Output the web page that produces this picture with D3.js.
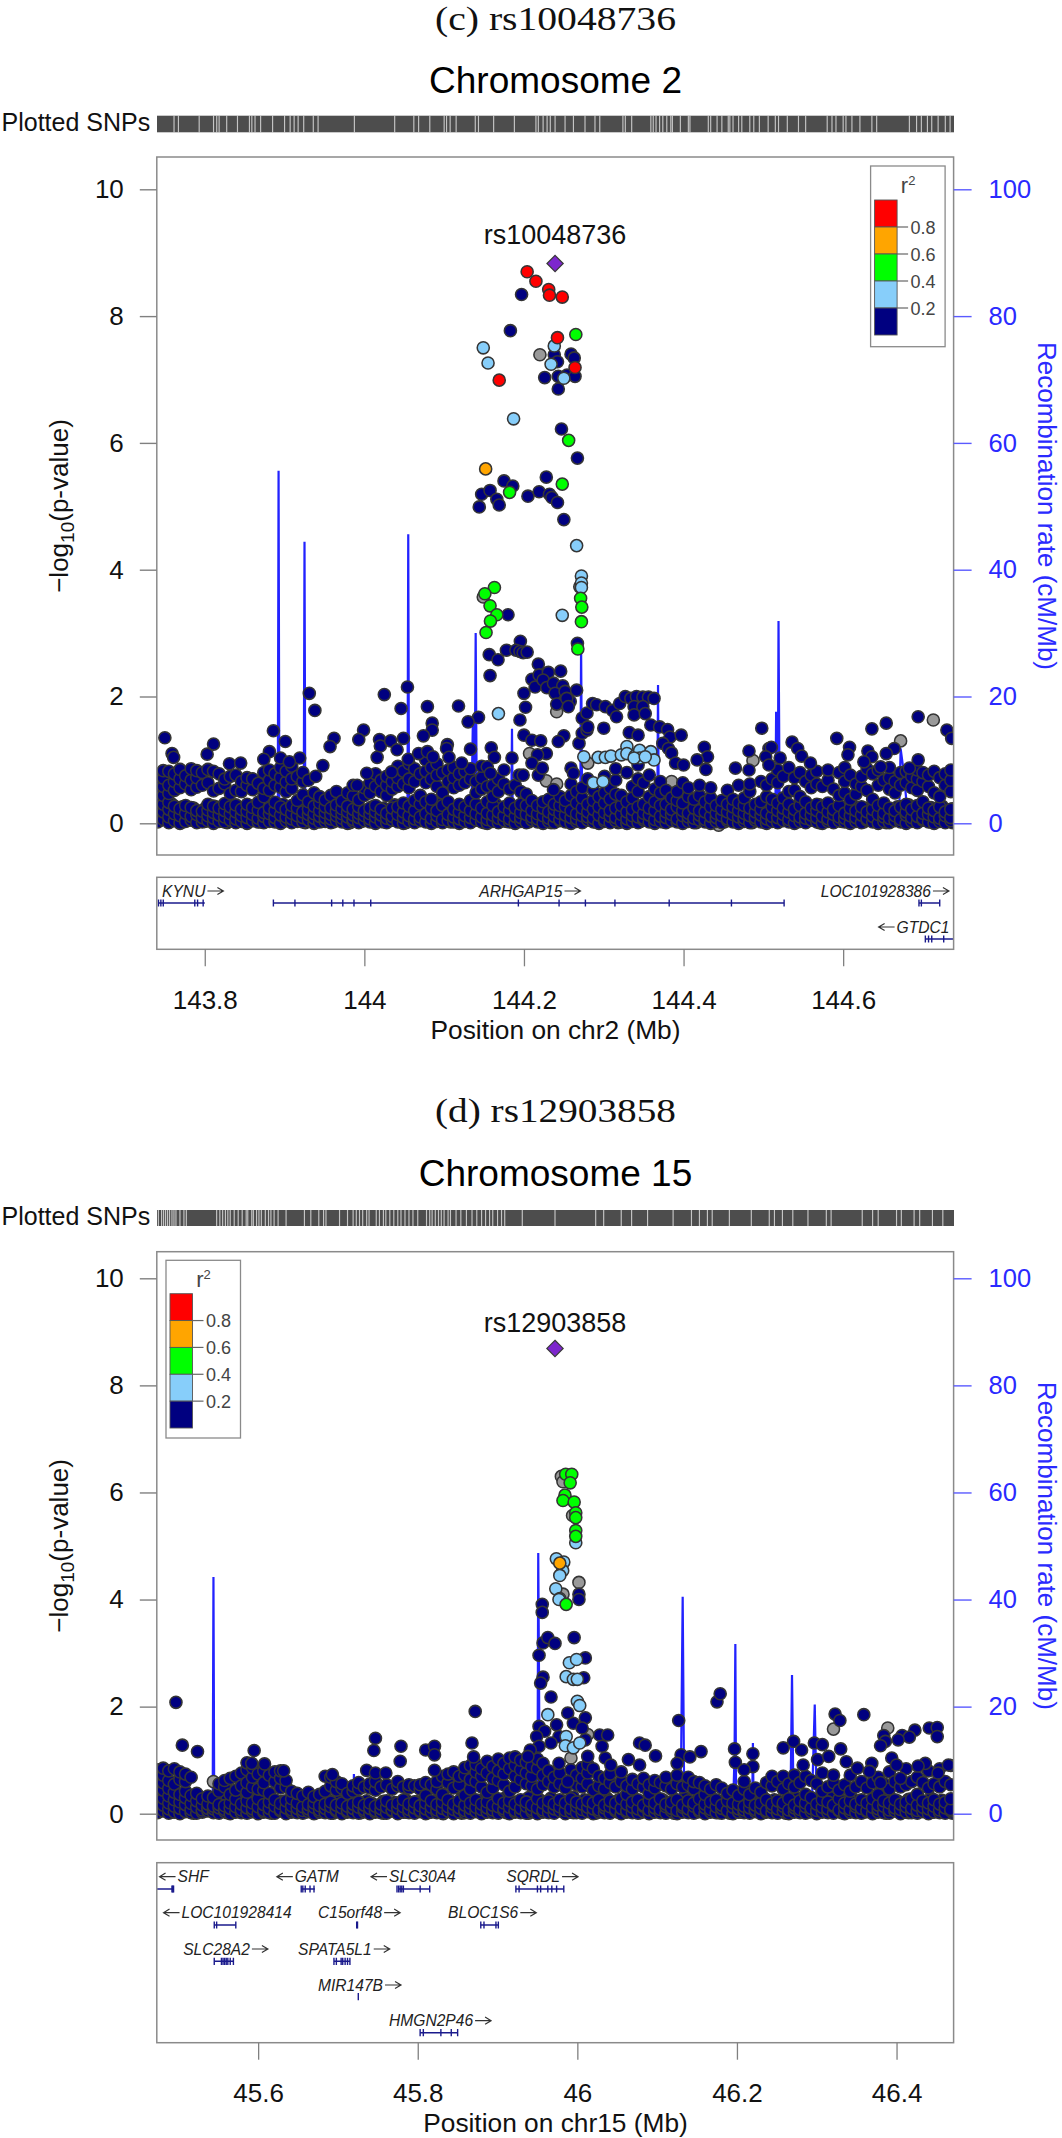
<!DOCTYPE html>
<html><head><meta charset="utf-8">
<script src="https://cdn.jsdelivr.net/npm/d3@7"></script>
<style>
html,body{margin:0;padding:0;background:#fff}
svg{display:block}
text{font-family:"Liberation Sans",Arial,sans-serif}
</style></head><body><svg id="c" width="1062" height="2138"></svg>
<script>
// ---------- panel (c) rs10048736 : positions in kb from 143.74 Mb ----------
const cTicks=[143.8,144,144.2,144.4,144.6];
const cBand=[
[1,.02,.13,.24,.36,.5,.63,.77],[8,.06,.18,.3,.44,.58,.71,.83],[15,.01,.1,.22,.33,.47,.6,.82],[22,.04,.15,.27,.52,.66,.78],
[29,0,.12,.23,.56,.7,.85],[36,.03,.16,.28,.62,.75],[43,.05,.11,.25,.53,.68,.86],[50,.01,.14,.2,.57,.72,.83],
[57,.02,.09,.19,.6,.8],[64,.04,.12,.21,.3,.64,.85],[71,0,.08,.17,.27,.51,.82],[78,.03,.13,.24,.55,.78],
[85,.02,.1,.2,.31,.62,.7],[92,.05,.15,.26,.47,.74],[99,.01,.07,.18,.29,.52,.76],[106,.03,.12,.22,.5,.66],
[113,0,.09,.19,.3,.6,.72],[120,.04,.14,.25,.53,.7],[127,.02,.08,.21,.33,.63],[134,.01,.11,.17,.42,.55,.8],
[141,.03,.15,.24,.52,.68,.84],[148,.02,.09,.2,.33,.6,.78],[155,0,.13,.26,.57,.72,.88],[162,.04,.1,.22,.5,.65,.82],
[169,.01,.07,.16,.28,.55,.7,.9],[176,.03,.12,.24,.36,.74],[183,.02,.09,.18,.45,.66,.8],[190,.05,.14,.22,.34,.68],
[197,0,.08,.15,.27,.48],[204,.02,.11,.2,.32,.42],[211,.03,.09,.17,.26,.37],[218,.01,.07,.14,.24,.44],
[225,.04,.12,.19,.29,.5],[232,.02,.08,.15,.23,.35],[239,0,.1,.18,.27,.48],[246,.03,.06,.13,.22,.43,.6],
[253,.01,.09,.16,.26,.37],[260,.04,.12,.2,.44,.56],[267,.02,.07,.15,.24,.48,.64],[274,0,.1,.18,.28,.58,.78],
[281,.03,.13,.22,.5,.68],[288,.01,.08,.16,.44,.6,.74],[295,.05,.11,.24,.54,.66],[302,.02,.14,.26,.58,.72,.9],
[309,0,.09,.18,.32,.62,.82],[316,.03,.12,.27,.56,.7,.94],[323,.01,.07,.2,.36,.66,.86],[330,.04,.1,.3,.44,.78],
[337,.02,.15,.34,.64,.82,1],[344,0,.08,.24,.38,.7,.88],[351,.03,.12,.2,.58,.76,.94],[358,.01,.06,.28,.48,.8],
[365,.04,.14,.34,.66,.84],[372,.02,.1,.22,.56,.72,.88],[379,0,.07,.18,.3,.6,.78],[386,.03,.12,.26,.64,.82],
[393,.01,.09,.2,.36,.7,.86],[400,.05,.15,.3,.48,.66],[407,.02,.1,.24,.54,.72,.9],[414,0,.06,.16,.34,.58],
[421,.03,.13,.28,.42,.6],[428,.01,.08,.18,.5,.7],[435,.04,.12,.26,.62],[442,.02,.07,.2,.32,.54],
[449,0,.11,.24,.6],[456,.03,.09,.17,.3,.5],[463,.01,.14,.28,.46],[470,.05,.1,.2,.36],
[477,.02,.07,.15,.28],[484,0,.12,.24,.34],[491,.03,.08,.18,.38],[498,.01,.11,.22,.3],
[505,.04,.06,.16,.28,.42],[512,.02,.13,.26,.36],[519,0,.09,.2,.44,.62],[526,.03,.07,.15,.32,.5],
[533,.01,.12,.24,.4,.56],[540,.05,.1,.18,.3,.7],[547,.02,.08,.22,.36,.52],[554,0,.13,.26,.42],
[561,.03,.06,.17,.32,.48,.74],[568,.01,.11,.2,.38,.56],[575,.04,.09,.24,.46,.68,.86],[582,.02,.14,.28,.44],
[589,0,.07,.18,.34,.8],[596,.03,.12,.22,.4,.58],[603,.01,.1,.26,.5,.7,.92],[610,.05,.08,.16,.3,.64],
[617,.02,.13,.24,.42,.76],[624,0,.06,.2,.34,.54],[631,.03,.11,.28,.48,.66],[638,.01,.09,.18,.3,.52],
[645,.04,.14,.22,.4],[652,.02,.07,.26,.36,.5],[659,0,.12,.2,.32,.64],[666,.03,.1,.16,.42,.56],
[673,.01,.08,.24,.38],[680,.05,.13,.2,.44,.6],[687,.02,.06,.18,.34],[694,0,.11,.26,.4,.56],
[701,.03,.09,.16,.28],[708,.01,.12,.22,.36],[715,.04,.07,.18,.3,.52],[722,.02,.14,.26,.38],
[729,0,.1,.2,.32,.6],[736,.03,.08,.16,.28,.4],[743,.01,.12,.24,.5,.62],[750,.05,.09,.18,.3],
[757,.02,.13,.22,.34,.66],[764,0,.07,.16,.42,.6],[771,.03,.11,.26,.38,.7],[778,.01,.09,.2,.32,.64,.84],
[785,.04,.14,.24,.4,.74],[792,.02,.06,.18,.3,.5,.88],[799,0,.12,.22,.52,.72],[806,.03,.1,.28,.42,.8],
[813,.01,.08,.16,.34,.66],[820,.05,.13,.24,.56,.76],[827,.02,.09,.2,.3,.62,.82],[834,0,.11,.26,.58],
[841,.03,.07,.18,.32,.68,.84],[848,.01,.14,.22,.54],[855,.04,.1,.28,.44,.8],[862,.02,.08,.16,.48,.66,.88],
[869,0,.12,.24,.38,.76],[876,.03,.09,.2,.46,.62],[883,.01,.13,.26,.58,.74],[890,.05,.07,.18,.52,.86],
[897,.02,.11,.22,.38,.78],[904,0,.14,.28,.6,.84],[911,.03,.1,.16,.32,.68],[918,.01,.08,.24,.54,.72,.88],
[925,.04,.12,.2,.48,.66],[932,.02,.06,.26,.6,.8],[939,0,.13,.18,.3,.64,.82],[946,.03,.09,.22,.56,.74],
[953,.01,.11,.28,.52,.7,.84],[960,.05,.07,.16,.34,.66,.8],[967,.02,.14,.24,.58,.76],[974,0,.1,.2,.48,.82],
[981,.03,.08,.26,.42,.72],[988,.01,.12,.18,.6,.78],[995,.04,.09,.22,.5,.68,.84]];
const cLow=[[4,.05,.17,.28],[18,.08,.2,.31],[32,.02,.13,.26],[46,.06,.16,.24],[60,.03,.11,.23],[74,.07,.19,.26],[88,.01,.12,.22],[102,.05,.15,.25],[116,.08,.18,.28],[130,.02,.1,.2],[144,.06,.14,.27],[158,.03,.17,.3],[172,.07,.13,.21],[186,.01,.11,.24],[200,.05,.16,.27],[207,.03,.12,.2],[214,.06,.13,.22],[221,.02,.1,.18],[228,.07,.14,.25],[235,.04,.11,.2],[242,.01,.09,.17],[249,.06,.15,.28],[256,.03,.12,.21],[270,.08,.16,.26],[284,.02,.1,.24],[298,.05,.17,.29],[312,.01,.13,.22],[326,.07,.15,.27],[340,.03,.11,.19],[354,.06,.18,.3],[368,.02,.14,.25],[382,.08,.12,.21],[396,.04,.16,.28],[410,.01,.1,.23],[424,.06,.19,.31],[438,.03,.13,.24],[452,.07,.15,.26],[466,.02,.11,.22],[480,.05,.17,.29],[494,.01,.14,.25],[508,.06,.1,.21],[522,.03,.16,.27],[536,.08,.12,.23],[550,.02,.18,.3],[564,.05,.13,.25],[578,.01,.11,.22],[592,.07,.16,.28],[606,.03,.14,.24],[620,.06,.1,.2],[634,.02,.15,.27],[648,.08,.12,.23],[662,.04,.17,.29],[676,.01,.13,.25],[690,.06,.11,.21],[697,.03,.16,.24],[704,.05,.12,.2],[711,.02,.09,.26],[718,.07,.15,.23],[732,.03,.13,.28],[746,.01,.11,.22],[760,.06,.17,.3],[774,.04,.14,.25],[788,.08,.12,.2],[802,.02,.16,.27],[816,.05,.1,.23],[830,.01,.13,.29],[844,.06,.18,.26],[858,.03,.11,.21],[872,.07,.15,.28],[886,.02,.12,.24],[900,.05,.16,.3],[914,.01,.1,.22],[928,.08,.14,.26],[942,.03,.17,.29],[956,.06,.11,.2],[970,.02,.13,.25],[984,.04,.15,.27],[997,.01,.12,.23]];
const cNavy=[[457,8.34],[443,7.77],[519,7.4],[523,7.34],[498,7.39],[502,7.28],[514,7.07],[524,7.05],[486,7.03],[503,7.05],[503,6.85],[507,6.22],[527,5.76],[488,5.46],[435,5.4],[446,5.32],[407,5.19],[417.5,5.25],[426,5.11],[429,5.02],[404,4.99],[465,5.16],[479,5.23],[492,5.19],[495,5.14],[502,5.06],[510,4.79],[527,2.84],[440,3.29],[455.5,2.87],[416.5,2.66],[427.5,2.58],[438,2.73],[450,2.73],[455,2.71],[459,2.69],[464,2.7],[417.5,2.33],[478,2.51],[470,2.27],[479,2.34],[490.6,2.38],[506,2.4],[474,2.15],[484,2.26],[488.6,2.14],[497,2.21],[508.6,2.17],[499,2.05],[511.6,2.08],[526,2.1],[501,1.88],[518,1.92],[513.6,1.97],[515.6,1.84],[460,2.05],[462,1.83],[455,1.63],[403,1.67],[390,1.6],[378,1.85],
[10,1.35],[19,1.1],[21,1.04],[71,1.25],[63,1.09],[91,.94],[105,.95],[146,1.46],[161,1.29],[141,1.13],[134,1.01],[155,1.03],[179,1.03],[166,.97],[191,2.05],[198,1.78],[222,1.34],[217,1.21],[208,.91],[199,.74],[259,1.47],[253,1.32],[279,1.32],[280,1.22],[293,1.3],[301,1.16],[309,1.34],[276,1.04],[285,2.03],[314,2.15],[306,1.81],[339,1.84],[345,1.58],[345,1.47],[334,1.38],[364,1.24],[363,1.18],[393,1.17],[315,1.01],[328,1.1],[339,1.13],[346,1.05],[366,1.04],[382,.95],[294,.81],[263,.79],[251,.6],[419,1.19],[423,1.04],[445,1.03],[414,.89],[435,.84],[454,.76],[459,.76],[418,.79],[478,.76],[460,1.39],[470,1.31],[481,1.3],[510,1.38],[503,1.29],[488,1.1],[477,1.08],[470,.95],[483,.87],[497,.53],[519,.87],[522,.79],[529,1.26],[533,1.42],[539,1.47],[533,1.66],[539,1.74],[546,1.89],[551,1.87],[562,1.84],[571,1.78],[576,1.68],[560,1.5],[540,1.52],[580,1.89],[587,2],[594,1.97],[601,2],[609,1.99],[616,1.99],[623,1.97],[598,1.84],[609,1.84],[598,1.71],[612,1.73],[592,1.43],[603,1.39],[619,1.55],[630,1.52],[640,1.48],[643,1.36],[657,1.39],[634,1.26],[641,1.18],[645,1.11],[650,.95],[660,.92],[686,1.2],[690,1.05],[677,1],[688,.85],[742,1.14],[725,.87],[742,.84],[758,1.5],[767,1.18],[770,1.2],[781,1.03],[763,1.05],[767,.92],[796,1.28],[803,1.18],[808,1.06],[819,.95],[852,1.34],[868,1.2],[866,1.08],[891,1.14],[896,1.49],[914,1.58],[954,1.68],[990,1.47],[996,1.34],[924,1.18],[914,1.1],[896,1.05],[886,.97],[907,.89],[954,1],[943,.87]];
const cGray=[[480,7.39],[530,3.73],[409,3.57],[501,1.76],[467,1.1],[488,.67],[501,.62],[973,1.63],[932,1.3],[747,.99],[704,-.03],[540,.95],[645,.66]];
const cLight=[[498,7.53],[409,7.5],[494,7.24],[415,7.26],[510,7.02],[447,6.38],[526,4.38],[532,3.9],[532,3.79],[532,3.72],[508,3.28],[428,1.73],[535,1.05],[553,1.04],[562,1.04],[569,1.06],[582,1.08],[589,1.21],[589,1.1],[599,1.06],[605,1.15],[605,1.03],[619,1.13],[623,1],[598,1.03],[612,1.05],[547,.64],[559,.66]];
const cGreen=[[525,7.71],[516,6.04],[508,5.35],[442,5.22],[531,3.55],[532.5,3.41],[532,3.18],[527.5,2.75],[423,3.72],[411,3.62],[417.5,3.43],[426,3.29],[418,3.19],[412.5,3.01]];
const cOrange=[[412,5.59]];
const cRed=[[464,8.7],[475,8.55],[491,8.42],[492,8.33],[508,8.3],[502,7.66],[524,7.19],[429,6.99]];
const cLead=[499,8.83];
const cRecomb=[[0,.4],[40,.3],[100,.2],[151.5,.3],[152.5,55.6],[153.5,.4],[184,.2],[185,44.4],[186,.3],[250,.2],[314,.3],[315,45.6],[316,.3],[394,.2],[396,16.3],[398,.4],[399.5,30],[401,.3],[444,.3],[445,14.9],[446,.2],[530.5,.3],[531.6,28],[533,.3],[627,.2],[628,21.8],[629,.2],[775,.4],[776,17.6],[778,.6],[779,31.9],[780.5,.3],[900,.2],[930,.4],[932,11.8],[936,8],[941,1],[950,.6],[998,.5]];
const cRugGaps=[21.5,27,53,71,75,78,87.5,101,116,119,123,130,145,160,167,172,177,184,196,202,247.5,298,322,328,342,360,363,367.5,375,399,403,422,448,475,478,484,489,493,499,511.5,522,536.5,549,555,584,587,595,619,622,625.5,630,634,639,644,646,656,666,668,691,694,702,708,716,718,722,729,733,743,748,755,766,775,779,790,804,813,840,846,851,860,863.5,871,881,896,902,943,952,958,965.6,971,979,988,994];
const cGeneNames=["KYNU","ARHGAP15","LOC101928386","GTDC1"];
const cGeneRows=[0,0,0,1];
const cGeneDirs=[1,1,1,-1];
const cGeneLabelKb=[6.5,404,832,927];
const cGeneSpans=[[2,60],[146,786],[955,981],[963,999]];
const cGeneExons=[[2,5,8,47.5,51,58],[146,173,219,233,247,268,453,504,537,574,642,720,786],[955,958,981],[963,967,971,986]];
// ---------- panel (d) rs12903858 : positions in kb from 45.473 Mb ----------
const dTicks=[45.6,45.8,46,46.2,46.4];
const dBand=[
[1,.02,.12,.24,.38,.52,.66,.82],[8,.05,.16,.29,.44,.58,.72,.85],[15,.01,.09,.2,.33,.47,.62,.8],[22,.03,.14,.26,.4,.55,.84],
[29,0,.1,.22,.36,.64,.78],[36,.04,.17,.3,.42,.6,.74],[43,.02,.08,.19,.34,.68],[50,.01,.12,.24,.38],
[57,.03,.07,.16,.28],[64,.05,.1,.18,.33],[71,.02,.09,.14,.3],[78,.01,.11,.17,.42,.56],
[85,.04,.08,.15,.5,.62],[92,0,.1,.2,.36,.66],[99,.03,.13,.27,.44,.7],[106,.02,.07,.18,.52,.76],
[113,.01,.11,.24,.4,.58,.82,.95],[120,.04,.09,.2,.5,.68,.86],[127,0,.13,.28,.46,.74],[134,.03,.06,.17,.44,.58,.8],
[141,.02,.1,.22,.38,.72],[148,.01,.14,.26,.6,.78],[155,.05,.08,.19,.48,.66,.8],[162,0,.11,.24,.5,.62],
[169,.03,.07,.15,.28,.42],[176,.02,.1,.2,.38],[183,.01,.06,.13,.33],[190,.04,.09,.17,.4],
[197,0,.12,.2,.32],[204,.03,.07,.15,.36],[211,.02,.1,.18,.42,.7],[218,.01,.13,.22,.52,.68],
[225,.05,.08,.16,.44,.6],[232,0,.11,.2,.48,.56],[239,.03,.06,.14,.38],[246,.02,.1,.18,.42,.52],
[253,.01,.12,.22,.46,.58],[260,.04,.08,.16,.5],[267,0,.1,.2,.48,.56],[274,.03,.06,.14,.44,.6],
[281,.02,.09,.18,.5],[288,.01,.12,.24,.54],[295,.05,.07,.16,.46],[302,0,.1,.2,.52,.6],
[309,.03,.13,.26,.5],[316,.02,.08,.18,.48,.54],[323,.01,.11,.22,.52],[330,.04,.06,.15,.46,.54],
[337,0,.09,.2,.34,.58],[344,.03,.12,.24,.54],[351,.02,.07,.17,.46,.6],[358,.01,.1,.22,.36,.7],
[365,.05,.13,.26,.58,.74],[372,0,.08,.18,.48,.78],[379,.03,.11,.24,.54,.7],[386,.02,.06,.16,.34,.72,.86],
[393,.01,.1,.2,.46,.64,.9],[400,.04,.12,.26,.6,.78,.92],[407,0,.08,.18,.5,.7,.84],[414,.03,.11,.22,.4,.76,.98],
[421,.02,.07,.16,.48,.66,.88],[428,.01,.13,.28,.62,.8,1.02],[435,.05,.09,.2,.54,.74,.94],[442,0,.12,.24,.42,.84,1.04],
[449,.03,.06,.18,.5,.7,.9,1.06],[456,.02,.1,.26,.64,.82,1],[463,.01,.14,.22,.56,.76,.96],[470,.04,.08,.16,.52,.7,.88,1.1],
[477,0,.11,.28,.46,.84,1.02],[484,.03,.07,.2,.54,.72,.94],[491,.02,.12,.24,.6,.8],[498,.01,.09,.18,.5,.68],
[505,.05,.13,.26,.56,.76],[512,0,.06,.2,.48],[519,.03,.1,.28,.6,.82],[526,.02,.14,.22,.54,.72],
[533,.01,.08,.18,.5,.66,.86],[540,.04,.12,.24,.56,.76,.92],[547,0,.09,.2,.44,.84],[554,.03,.07,.26,.52,.7],
[561,.02,.11,.16,.46,.66],[568,.01,.13,.24,.58,.74],[575,.05,.08,.2,.5],[582,0,.1,.28,.6,.78],
[589,.03,.06,.18,.36,.52],[596,.02,.12,.22,.46,.64],[603,.01,.09,.26,.56],[610,.04,.14,.16,.5,.66],
[617,0,.07,.24,.38,.54],[624,.03,.11,.2,.48,.62],[631,.02,.08,.28,.58],[638,.01,.13,.18,.52,.68],
[645,.05,.1,.22,.46],[652,0,.06,.26,.56,.72],[659,.03,.12,.16,.5],[666,.02,.09,.24,.54,.68],
[673,.01,.14,.2,.46,.6],[680,.04,.07,.28,.58],[687,0,.11,.18,.36,.52],[694,.03,.08,.22,.46],
[701,.02,.13,.26,.54],[708,.01,.1,.16,.48],[715,.05,.06,.24,.38],[722,0,.12,.2,.44],
[729,.03,.09,.18,.34],[736,.02,.07,.14,.46,.6],[743,.01,.11,.22,.36],[750,.04,.08,.16,.48],
[757,0,.1,.2,.4],[764,.03,.06,.26,.58],[771,.02,.12,.18,.52,.7],[778,.01,.09,.24,.6],
[785,.05,.14,.2,.46,.7],[792,0,.07,.28,.56],[799,.03,.11,.16,.5,.72],[806,.02,.08,.24,.58],
[813,.01,.13,.2,.36,.7],[820,.04,.1,.3,.62],[827,0,.06,.18,.56],[834,.03,.12,.26,.42,.76],
[841,.02,.09,.22,.5],[848,.01,.14,.16,.58,.72],[855,.05,.07,.28,.44],[862,0,.11,.2,.54],
[869,.03,.08,.24,.42,.72],[876,.02,.13,.18,.5],[883,.01,.1,.26,.6],[890,.04,.06,.2,.48],
[897,0,.12,.28,.58],[904,.03,.09,.16,.36,.68],[911,.02,.14,.24,.56],[918,.01,.07,.2,.46,.78],
[925,.05,.11,.26,.6],[932,0,.08,.18,.5],[939,.03,.13,.22,.54,.84],[946,.02,.1,.28,.6],
[953,.01,.06,.16,.36,.68],[960,.04,.12,.24,.58],[967,0,.09,.2,.48,.8],[974,.03,.14,.26,.56],
[981,.02,.07,.18,.5,.84],[988,.01,.11,.22,.6],[995,.05,.08,.28,.54,.9]];
const dLow=[[4,.06,.17,.29],[18,.03,.14,.26],[32,.07,.19,.27],[46,.01,.12,.24],[60,.05,.13,.22],[74,.08,.16,.25],[88,.02,.12,.28],[102,.06,.18,.3],[116,.03,.15,.27],[130,.07,.12,.22],[144,.01,.17,.28],[158,.05,.11,.23],[172,.08,.18,.25],[186,.03,.1,.2],[193,.06,.14,.24],[200,.02,.11,.18],[207,.07,.16,.22],[214,.04,.12,.26],[221,.01,.09,.19],[228,.06,.15,.23],[235,.03,.11,.21],[242,.08,.13,.2],[249,.05,.17,.25],[256,.02,.09,.18],[263,.06,.14,.24],[270,.04,.12,.19],[284,.01,.15,.23],[298,.07,.11,.21],[312,.03,.17,.26],[326,.06,.13,.22],[340,.02,.1,.25],[354,.08,.15,.27],[368,.04,.12,.23],[382,.01,.18,.29],[396,.06,.14,.25],[410,.03,.11,.28],[424,.07,.16,.24],[438,.02,.13,.31],[452,.05,.1,.22],[466,.01,.17,.3],[480,.06,.12,.26],[494,.03,.15,.29],[508,.08,.11,.24],[522,.02,.18,.31],[536,.05,.13,.26],[550,.01,.1,.23],[564,.07,.16,.29],[578,.03,.12,.25],[592,.06,.15,.27],[606,.02,.11,.21],[620,.08,.14,.3],[634,.04,.17,.26],[648,.01,.12,.23],[662,.06,.16,.29],[676,.03,.1,.24],[690,.07,.13,.27],[704,.02,.15,.22],[711,.05,.11,.25],[718,.01,.14,.19],[725,.06,.09,.24],[732,.03,.16,.28],[746,.07,.12,.23],[760,.02,.15,.3],[774,.05,.11,.26],[788,.01,.17,.24],[802,.06,.13,.29],[816,.03,.1,.22],[830,.08,.16,.27],[844,.04,.12,.3],[858,.02,.18,.25],[872,.06,.14,.28],[886,.03,.11,.23],[900,.07,.15,.26],[914,.01,.13,.3],[928,.05,.17,.24],[942,.02,.11,.27],[956,.06,.14,.22],[970,.03,.16,.29],[984,.08,.12,.25],[997,.01,.15,.26]];
const dNavy=[[529,4.1],[483,3.91],[483,3.76],[529,4],[479,2.96],[484,2.55],[481,2.44],[484,3.19],[490,3.29],[499,3.18],[494,2.18],[523,3.29],[537,2.91],[535,2.54],
[24,2.08],[32,1.28],[51,1.16],[122,1.18],[119,.94],[135,.93],[159,.8],[274,1.41],[272,1.18],[306,1.26],[305,.98],[337,1.19],[348,1.26],[348,1.1],[348,.81],[395,1.32],[397,1.06],[399,1.91],[220,.73],[263,.81],[274,.76],[287,.76],
[479,1.63],[486,1.54],[476,1.44],[501,1.66],[515,1.88],[522,1.69],[537,1.79],[533,1.6],[504,1.44],[494,1.32],[479,1.26],[468,1.19],[465,1.07],[504,.94],[515,.6],[537,1.38],[540,1.07],[555,1.47],[565,1.47],[558,1.26],[562,1.04],[569,.91],[591,1.01],[605,1.32],[612,1.28],[625,1.08],[605,.91],[654,1.74],[657,1.1],[668,1.06],[682,1.16],[652,.94],[702,2.09],[706,2.24],[724,1.21],[725,.96],[747,1.12],[747,.88],[736,.82],[785,1.23],[798,1.35],[808,1.19],[824,1.32],[834,1.29],[828,1.01],[810,.91],[850,1.86],[856,1.74],[886,1.85],[911,1.46],[913,1.35],[907,1.27],[934,1.46],[950,1.56],[943,1.43],[968,1.6],[978,1.61],[978,1.44],[929,1.38],[921,1.04],[927,.91],[932,.66],[963,.94],[954,.89],[992,.91],[979,.76],[857,1.21],[842,1.07],[864,.97],[878,.85],[896,.94],[893,.79],[907,.58]];
const dGray=[[507,6.3],[509,6.2],[521,5.57],[529,4.32],[509,4.1],[540,1.48],[519,1.04],[848,1.58],[916,1.6],[783,.13],[359,0],[71,.6]];
const dLight=[[525,5.06],[500.7,4.76],[510,4.7],[508.6,4.54],[505,4.45],[500,4.2],[505,4.02],[504,4],[490,1.85],[517,2.82],[526,2.88],[513,2.56],[522,2.51],[527,2.51],[527,2.1],[530,2.02],[513,1.44],[512,1.27],[522,1.23],[530,1.32]];
const dGreen=[[512.4,6.34],[520,6.34],[518,6.18],[511.5,5.95],[509,5.85],[523,5.82],[525,5.62],[525,5.53],[525,5.29],[525,5.18],[513,3.91]];
const dOrange=[[505,4.68]];
const dRed=[];
const dLead=[499,8.69];
const dRecomb=[[0,.3],[40,.2],[70,.3],[71,44.2],[72,.4],[200,.2],[246.5,.3],[247,7.4],[248,.3],[397,.2],[398,5],[399,.3],[477,.4],[478,48.7],[480,.3],[600,.2],[655,.4],[657,10],[659,40.5],[661,.4],[722,.3],[724,11],[725,31.7],[726,.3],[746,.2],[747,13.2],[748,.3],[790,.2],[794,1],[796,25.9],[798,1],[821,2],[824.5,20.4],[827,.4],[998,.3]];
const dRugGaps=[2,6,8.5,11,13.5,16,19,21.5,24,29,34,37,75,79,82.5,86,89,92,97,102,107,112,114,119,121,125,128,131,136,140,143,147,152,162,185,193,203,209,212,229,239,246,250,254,258,263,266,275,279,284,287,292,297,302,306,311,316,321,327,338,342,345,349,353,356.5,360,365,368,375,381,388,395,401,407,412,417,421,427,432,436,458,499,550,560,582,595,615,647,670,680,690,696,717.5,745,767.5,774,784,797,816,839,845,884,897,904,927,933,949,956,972,985];
const dGeneNames=["SHF","GATM","SLC30A4","SQRDL","LOC101928414","C15orf48","BLOC1S6","SLC28A2","SPATA5L1","MIR147B","HMGN2P46"];
const dGeneRows=[0,0,0,0,1,1,1,2,2,3,4];
const dGeneDirs=[-1,-1,-1,1,-1,1,1,1,1,1,1];
const dGeneLabelKb=[26,173,291,438,31,202,365,33,177,202,291];
const dGeneSpans=[[0,21],[181,198],[303,342],[450,510],[72,99],[251,251],[406,428],[72,96],[222,242],[252.5,252.5],[330,377]];
const dGeneExons=[[19,20,21],[181,183,186,192,197],[301,303,305,307,309,330,342],[450,454,477,481,490,495,501,510],[72,75,99],[250.5,251.5],[406,410,425,428],[72,81,83,85,87,89,92,96],[222,225,231,233,236,239,242],[252.5],[330,334,356,369,377]];
// ---------- shared ----------
const ldColours=["#999999","#000080","#87CEFA","#00FF00","#FFA500","#FF0000"];
const legendColours=["#FF0000","#FFA500","#00FF00","#87CEFA","#000080"];
const legendLabels=["0.8","0.6","0.4","0.2"];
const yTicks=[0,2,4,6,8,10];
const rateTicks=[0,20,40,60,80,100];

const svg=d3.select("#c");
let uid=0;
function flatten(cols){const out=[];cols.forEach(c=>c.slice(1).forEach(p=>out.push([c[0],p])));return out;}

function panel(o){
  const id="p"+(uid++);
  const x=d3.scaleLinear().domain([o.xMin,o.xMin+o.xSpan]).range([156.8,953.6]);
  const kb=k=>x(o.origin+k/1000);
  const y=d3.scaleLinear().domain([0,10]).range([o.y0,o.y10]);
  const r=d3.scaleLinear().domain([0,100]).range([o.y0,o.y10]);
  const g=svg.append("g");
  // titles
  g.append("text").attr("x",555.5).attr("y",o.subY).attr("text-anchor","middle").style("font-family",'"Liberation Serif","Times New Roman",serif').style("font-size","33px").attr("fill","#111").attr("textLength",241).attr("lengthAdjust","spacingAndGlyphs").text(o.sub);
  g.append("text").attr("x",555.5).attr("y",o.titleY).attr("text-anchor","middle").style("font-size","37px").attr("fill","#000").text(o.title);
  g.append("text").attr("x",1.5).attr("y",o.rugBot-1).style("font-size","25px").attr("fill","#111").text("Plotted SNPs");
  // rug
  g.append("rect").attr("x",157).attr("y",o.rugTop).attr("width",797).attr("height",o.rugBot-o.rugTop).attr("fill","#4d4d4d");
  g.append("g").selectAll("line").data(o.gaps).join("line")
    .attr("x1",d=>kb(d)).attr("x2",d=>kb(d)).attr("y1",o.rugTop).attr("y2",o.rugBot)
    .attr("stroke","#fff").attr("stroke-opacity",.68).attr("stroke-width",1.15);
  // clip
  svg.append("clipPath").attr("id",id).append("rect").attr("x",156.8).attr("y",o.top).attr("width",796.8).attr("height",o.bot-o.top);
  svg.append("clipPath").attr("id",id+"g").append("rect").attr("x",156.8).attr("y",o.gTop).attr("width",796.8).attr("height",o.gBot-o.gTop);
  const plot=g.append("g").attr("clip-path",`url(#${id})`);
  // recombination
  plot.append("path").datum(o.recomb).attr("fill","none").attr("stroke","#2222ff").attr("stroke-width",2.2)
    .attr("d",d3.line().x(d=>kb(d[0])).y(d=>r(d[1])));
  // points
  const groups=[o.gray,flatten(o.low).concat(flatten(o.band),o.navy),o.light,o.green,o.orange,o.red];
  groups.forEach((pts,i)=>{
    plot.append("g").selectAll("circle").data(pts).join("circle")
      .attr("cx",d=>kb(d[0])).attr("cy",d=>y(d[1])).attr("r",6.05)
      .attr("fill",ldColours[i]).attr("stroke","#353535").attr("stroke-width",1.55);
  });
  // lead SNP
  const sym=d3.symbol().type(d3.symbolDiamond2||d3.symbolDiamond).size(170)();
  plot.append("path").attr("d",sym).attr("transform",`translate(${kb(o.lead[0])},${y(o.lead[1])})`)
    .attr("fill","#7D26CD").attr("stroke","#3a3a3a").attr("stroke-width",1.2);
  g.append("text").attr("x",kb(o.lead[0])).attr("y",o.leadTextY).attr("text-anchor","middle").style("font-size","27px").attr("fill","#111").text(o.rs);
  // frame
  g.append("rect").attr("x",156.8).attr("y",o.top).attr("width",796.8).attr("height",o.bot-o.top).attr("fill","none").attr("stroke","#8a8a8a").attr("stroke-width",1.5);
  // axes
  const al=g.append("g").attr("transform","translate(156.8,0)").call(d3.axisLeft(y).tickValues(yTicks).tickSize(17).tickPadding(16).tickFormat(d=>d));
  al.select(".domain").remove();
  al.selectAll("line").attr("stroke","#808080").attr("stroke-width",1.4);
  al.selectAll("text").style("font-size","26px").attr("fill","#111");
  const ar=g.append("g").attr("transform","translate(953.6,0)").call(d3.axisRight(r).tickValues(rateTicks).tickSize(18).tickPadding(17).tickFormat(d=>d));
  ar.select(".domain").remove();
  ar.selectAll("line").attr("stroke","#5a5aff").attr("stroke-width",1.4);
  ar.selectAll("text").style("font-size","25.5px").attr("fill","#2a2aff");
  const cy=(o.top+o.bot)/2;
  const yl=g.append("text").attr("transform",`translate(68,${cy}) rotate(-90)`).attr("text-anchor","middle").style("font-size","26px").attr("fill","#111");
  yl.append("tspan").text("\u2212log");
  yl.append("tspan").attr("dy",6).style("font-size","19px").text("10");
  yl.append("tspan").attr("dy",-6).text("(p-value)");
  g.append("text").attr("transform",`translate(1038,${cy}) rotate(90)`).attr("text-anchor","middle").style("font-size","26px").attr("fill","#2a2aff").text("Recombination rate (cM/Mb)");
  // legend
  const lg=g.append("g");
  lg.append("rect").attr("x",o.lgX).attr("y",o.lgTop).attr("width",74.5).attr("height",o.lgBot-o.lgTop).attr("fill","#fff").attr("stroke","#8a8a8a").attr("stroke-width",1.3);
  const ly=d3.scaleBand().domain(legendColours).range([o.lgBarTop,o.lgBarBot]);
  const bx=o.lgX+4;
  lg.selectAll("rect.b").data(legendColours).join("rect").attr("class","b").attr("x",bx).attr("y",d=>ly(d)).attr("width",22.5).attr("height",ly.bandwidth()).attr("fill",d=>d).attr("stroke","#555").attr("stroke-width",.9);
  const tickY=d3.scalePoint().domain(legendLabels).range([o.lgBarTop+ly.bandwidth(),o.lgBarBot-ly.bandwidth()]);
  lg.selectAll("line").data(legendLabels).join("line").attr("x1",bx+22.5).attr("x2",bx+33.5).attr("y1",d=>tickY(d)).attr("y2",d=>tickY(d)).attr("stroke","#666").attr("stroke-width",1.2);
  lg.selectAll("text.t").data(legendLabels).join("text").attr("class","t").attr("x",bx+36).attr("y",d=>tickY(d)+6.5).style("font-size","18px").attr("fill","#444").text(d=>d);
  const rr=lg.append("text").attr("x",o.lgX+37.5).attr("y",o.lgTop+27).attr("text-anchor","middle").style("font-size","22px").attr("fill","#444");
  rr.append("tspan").text("r");
  rr.append("tspan").attr("dy",-8).style("font-size","13px").text("2");
  // gene panel
  const gp=g.append("g");
  const genes=gp.append("g").attr("clip-path",`url(#${id}g)`);
  o.names.forEach((name,i)=>{
    const row=o.rows[i], ty=o.textY[row], ly2=o.lineY[row], sp=o.spans[i];
    const gg=genes.append("g");
    if(sp[1]>sp[0]) gg.append("line").attr("x1",kb(sp[0])).attr("x2",kb(sp[1])).attr("y1",ly2).attr("y2",ly2).attr("stroke","#1a1a8c").attr("stroke-width",1.5);
    gg.selectAll("line.e").data(o.exons[i]).join("line").attr("class","e").attr("x1",d=>kb(d)).attr("x2",d=>kb(d)).attr("y1",ly2-3.6).attr("y2",ly2+3.6).attr("stroke","#1a1a8c").attr("stroke-width",1.4);
    const t=gg.append("text").attr("x",kb(o.labelKb[i])).attr("y",ty+5.5).style("font-size","15.6px").style("font-style","italic").attr("fill","#222").text(name);
    const x0=kb(o.labelKb[i]), w=t.node().getComputedTextLength();
    const a=o.dirs[i]>0?[x0+w+2,x0+w+18,1]:[x0-2,x0-18,-1];
    const d3p=d3.path();
    d3p.moveTo(a[0],ty);d3p.lineTo(a[1],ty);
    d3p.moveTo(a[1]-a[2]*6,ty-3.6);d3p.lineTo(a[1],ty);d3p.lineTo(a[1]-a[2]*6,ty+3.6);
    gg.append("path").attr("d",d3p.toString()).attr("fill","none").attr("stroke","#333").attr("stroke-width",1.2);
  });
  gp.append("rect").attr("x",156.8).attr("y",o.gTop).attr("width",796.8).attr("height",o.gBot-o.gTop).attr("fill","none").attr("stroke","#8a8a8a").attr("stroke-width",1.5);
  const ab=g.append("g").attr("transform",`translate(0,${o.gBot})`).call(d3.axisBottom(x).tickValues(o.ticks).tickSize(17).tickPadding(24).tickFormat(d=>d));
  ab.select(".domain").remove();
  ab.selectAll("line").attr("stroke","#808080").attr("stroke-width",1.3);
  ab.selectAll("text").style("font-size","26px").attr("fill","#111");
  g.append("text").attr("x",555.5).attr("y",o.xlabY).attr("text-anchor","middle").style("font-size","26.3px").attr("fill","#111").text(o.xlab);
}

panel({origin:143.74,xMin:143.7399,xSpan:.9985,ticks:cTicks,y0:823.3,y10:189.3,top:157,bot:855,gTop:877.3,gBot:949.3,
  sub:"(c) rs10048736",subY:29.5,title:"Chromosome 2",titleY:92.5,rs:"rs10048736",leadTextY:244,rugTop:115.7,rugBot:132.3,gaps:cRugGaps,
  recomb:cRecomb,band:cBand,low:cLow,navy:cNavy,gray:cGray,light:cLight,green:cGreen,orange:cOrange,red:cRed,lead:cLead,
  lgX:870.6,lgTop:166,lgBot:346.7,lgBarTop:200,lgBarBot:335,
  names:cGeneNames,rows:cGeneRows,dirs:cGeneDirs,labelKb:cGeneLabelKb,spans:cGeneSpans,exons:cGeneExons,textY:[891,927],lineY:[903,939],
  xlab:"Position on chr2 (Mb)",xlabY:1039});
panel({origin:45.473,xMin:45.473,xSpan:.9985,ticks:dTicks,y0:1813.7,y10:1278.3,top:1251.7,bot:1840,gTop:1862.7,gBot:2042.7,
  sub:"(d) rs12903858",subY:1121.7,title:"Chromosome 15",titleY:1186,rs:"rs12903858",leadTextY:1331.7,rugTop:1210,rugBot:1226,gaps:dRugGaps,
  recomb:dRecomb,band:dBand,low:dLow,navy:dNavy,gray:dGray,light:dLight,green:dGreen,orange:dOrange,red:dRed,lead:dLead,
  lgX:166,lgTop:1260.3,lgBot:1438,lgBarTop:1293.7,lgBarBot:1428,
  names:dGeneNames,rows:dGeneRows,dirs:dGeneDirs,labelKb:dGeneLabelKb,spans:dGeneSpans,exons:dGeneExons,textY:[1876.7,1912.7,1949,1985,2020.7],lineY:[1889,1925,1961.3,1996.7,2032.7],
  xlab:"Position on chr15 (Mb)",xlabY:2132});
</script></body></html>
